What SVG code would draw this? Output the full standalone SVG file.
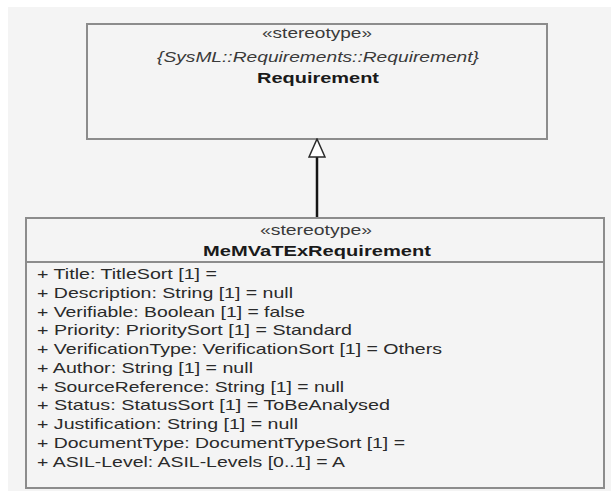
<svg xmlns="http://www.w3.org/2000/svg" width="611" height="497" viewBox="0 0 611 497">
<style>
.box{fill:#f4f4f4;stroke:#8c8c8c;stroke-width:2}
.div{stroke:#8c8c8c;stroke-width:2}
.st{font-family:"Liberation Sans",Arial,sans-serif;font-size:14px;fill:#3a3a3a}
.it{font-family:"Liberation Sans",Arial,sans-serif;font-size:14px;font-style:italic;fill:#3a3a3a}
.nm{font-family:"Liberation Sans",Arial,sans-serif;font-size:15px;font-weight:bold;fill:#1a1a1a}
.at{font-family:"Liberation Sans",Arial,sans-serif;font-size:15px;fill:#2a2a2a}
.edge{fill:none;stroke:#141414;stroke-width:2.5}
</style>
<defs>
<marker id="gen" markerUnits="userSpaceOnUse" viewBox="-1 -1 20 18" refX="0" refY="8" markerWidth="20" markerHeight="18" orient="auto">
<path d="M0,0 L18,8 L0,16 Z" fill="#ffffff" stroke="#2a2a2a" stroke-width="1.5"/>
</marker>
</defs>
<rect x="0" y="0" width="611" height="497" fill="#ffffff"/>
<rect x="8" y="7" width="603" height="484" fill="#f4f4f4"/>
<g id="requirement">
<rect class="box" x="87" y="24" width="460" height="115"/>
<text class="st" x="317" y="38" text-anchor="middle" textLength="110" lengthAdjust="spacingAndGlyphs">«stereotype»</text>
<text class="it" x="318" y="62" text-anchor="middle" textLength="322" lengthAdjust="spacingAndGlyphs">{SysML::Requirements::Requirement}</text>
<text class="nm" x="318" y="83" text-anchor="middle" textLength="122" lengthAdjust="spacingAndGlyphs">Requirement</text>
</g>
<g id="connectors">
<path class="edge" d="M317,218 V157" marker-end="url(#gen)"/>
</g>
<g id="memvatexrequirement">
<rect class="box" x="26" y="218" width="578" height="270"/>
<line class="div" x1="26" y1="262" x2="604" y2="262"/>
<text class="st" x="316" y="235" text-anchor="middle" textLength="112" lengthAdjust="spacingAndGlyphs">«stereotype»</text>
<text class="nm" x="317" y="256" text-anchor="middle" textLength="228" lengthAdjust="spacingAndGlyphs">MeMVaTExRequirement</text>
<text class="at" x="37" y="279" textLength="180" lengthAdjust="spacingAndGlyphs">+ Title: TitleSort [1] =</text>
<text class="at" x="37" y="298" textLength="256" lengthAdjust="spacingAndGlyphs">+ Description: String [1] = null</text>
<text class="at" x="37" y="317" textLength="268" lengthAdjust="spacingAndGlyphs">+ Verifiable: Boolean [1] = false</text>
<text class="at" x="37" y="335" textLength="315" lengthAdjust="spacingAndGlyphs">+ Priority: PrioritySort [1] = Standard</text>
<text class="at" x="37" y="354" textLength="405" lengthAdjust="spacingAndGlyphs">+ VerificationType: VerificationSort [1] = Others</text>
<text class="at" x="37" y="373" textLength="216" lengthAdjust="spacingAndGlyphs">+ Author: String [1] = null</text>
<text class="at" x="37" y="392" textLength="307" lengthAdjust="spacingAndGlyphs">+ SourceReference: String [1] = null</text>
<text class="at" x="37" y="410" textLength="353" lengthAdjust="spacingAndGlyphs">+ Status: StatusSort [1] = ToBeAnalysed</text>
<text class="at" x="37" y="429" textLength="261" lengthAdjust="spacingAndGlyphs">+ Justification: String [1] = null</text>
<text class="at" x="37" y="448" textLength="368" lengthAdjust="spacingAndGlyphs">+ DocumentType: DocumentTypeSort [1] =</text>
<text class="at" x="37" y="467" textLength="308" lengthAdjust="spacingAndGlyphs">+ ASIL-Level: ASIL-Levels [0..1] = A</text>
</g>
</svg>
